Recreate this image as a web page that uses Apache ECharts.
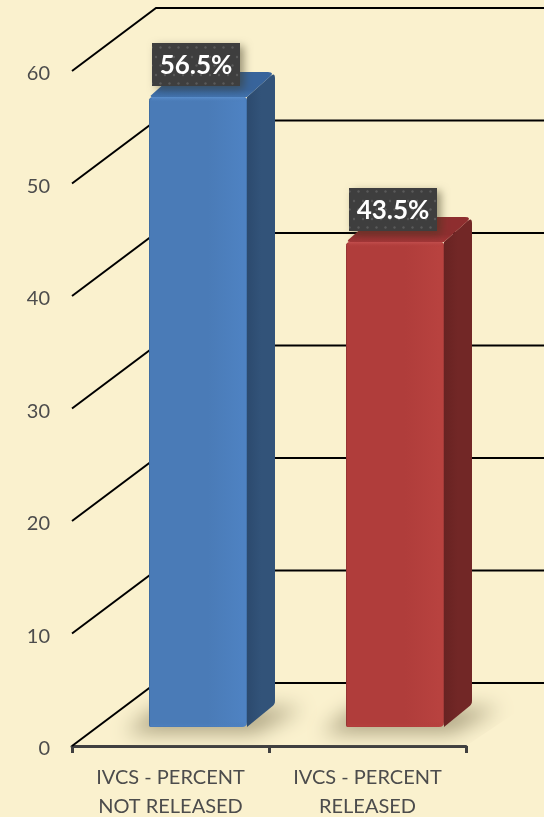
<!DOCTYPE html>
<html><head><meta charset="utf-8">
<style>html,body{margin:0;padding:0;background:#FAF1CE}#c{width:544px;height:817px}</style>
<script src="https://cdn.jsdelivr.net/npm/echarts@6/dist/echarts.min.js"></script>
</head><body><div id="c"></div>
<script>
const categories = ['IVCS - PERCENT\nNOT RELEASED', 'IVCS - PERCENT\nRELEASED'];
const values = [56.5, 43.5];
const yTicks = [0, 10, 20, 30, 40, 50, 60];
const palettes = [
  {edge:'#3A6596', main:'#4A7BB7', light:'#4E82C2', top:'#38649B', topHi:'#4273AE', side:'#325379', sideHi:'#2C4A6E', hi:'#5B90CF'},
  {edge:'#8A3231', main:'#B03D3B', light:'#B8423F', top:'#8E2E2F', topHi:'#A33637', side:'#722726', sideHi:'#682322', hi:'#C44F4E'}
];
const WALL_DX = 84, WALL_DY = 63, BAR_SHIFT = 27.5, BAR_W = 98, BAR_RISE = 19, BAR_DX = 28, BAR_DY = 23, PERSP = 0.991, OFF = 1500;

function rounded(pts, r) {
  const out = [], n = pts.length;
  pts.forEach((p, i) => {
    const a = pts[(i + n - 1) % n], b = pts[(i + 1) % n], rr = p[2] === undefined ? r : p[2];
    if (!rr) { out.push([p[0], p[1]]); return; }
    const la = Math.hypot(a[0]-p[0], a[1]-p[1]), lb = Math.hypot(b[0]-p[0], b[1]-p[1]);
    const s = [p[0]+(a[0]-p[0])*rr/la, p[1]+(a[1]-p[1])*rr/la];
    const e = [p[0]+(b[0]-p[0])*rr/lb, p[1]+(b[1]-p[1])*rr/lb];
    for (let t = 0; t <= 1.001; t += 0.25) {
      const u = 1 - t;
      out.push([u*u*s[0]+2*u*t*p[0]+t*t*e[0], u*u*s[1]+2*u*t*p[1]+t*t*e[1]]);
    }
  });
  return out;
}
function grad(x0, y0, x1, y1, stops) {
  return {type:'linear', x:x0, y:y0, x2:x1, y2:y1, global:true,
    colorStops:stops.map(s => ({offset:s[0], color:s[1]}))};
}
const dots = document.createElement('canvas');
dots.width = 18; dots.height = 18;
(function () {
  const g = dots.getContext('2d');
  g.fillStyle = '#3E3E3E'; g.fillRect(0, 0, 18, 18);
  g.fillStyle = '#5A5A5A';
  [[3,3],[12,3],[7.5,11.5],[16.5,11.5]].forEach(d => { g.beginPath(); g.arc(d[0], d[1], 1.2, 0, 7); g.fill(); });
})();

function renderGrid(params, api) {
  const cs = params.coordSys, y = api.coord([0, api.value(1)])[1], x = cs.x;
  return {type:'polyline', silent:true, shape:{points:[[x, y],[x+WALL_DX, y-WALL_DY],[560, y-WALL_DY]]},
    style:{fill:null, stroke:'#000', lineWidth:2}};
}
function floorShadow(params, api) {
  const c = api.coord([api.value(0), 0]), cs = params.coordSys;
  const x0 = c[0]+BAR_SHIFT-BAR_W/2, x1 = x0+BAR_W, b = c[1]-BAR_RISE;
  const y0 = api.coord([0,0])[1];
  const pts = [[x0-24, b+6],[x1+8, b+6],[x1+BAR_DX+28, b-BAR_DY+4],[x0+8, b-BAR_DY+4]];
  return {type:'polygon', silent:true,
    clipPath:{type:'polygon', shape:{points:[[cs.x, y0],[cs.x+WALL_DX, y0-WALL_DY],[560, y0-WALL_DY],[cs.x+cs.width, y0]]}},
    shape:{points:pts.map(p => [p[0]-OFF, p[1]])},
    style:{fill:'#000', shadowBlur:20, shadowOffsetX:OFF, shadowColor:'rgb(172,163,130)'}};
}
function renderBar(params, api) {
  const i = api.value(0), v = api.value(1), pal = palettes[i];
  const base = api.coord([i, 0]), tip = api.coord([i, v]);
  const x0 = base[0]+BAR_SHIFT-BAR_W/2, x1 = x0+BAR_W, b = base[1]-BAR_RISE;
  const t = b - (base[1]-tip[1])*PERSP, dtop = BAR_DY+2;
  const side = rounded([[x1,t,0],[x1+BAR_DX,t-dtop,6],[x1+BAR_DX,b-BAR_DY,3],[x1,b,0]], 4);
  const top = rounded([[x0,t,4],[x0+BAR_DX,t-dtop,7],[x1+BAR_DX,t-dtop,7],[x1,t,0]], 4);
  const front = rounded([[x0,t,4],[x1,t,3],[x1,b,5],[x0,b,2]], 3);
  const cx = (x0+x1)/2 - 2, boxB = t-11, boxT = boxB-43, boxL = cx-44;
  return {type:'group', silent:true, children:[
    {type:'polygon', shape:{points:side}, style:{fill:grad(x1,0,x1+BAR_DX,0,[[0,pal.sideHi],[0.5,pal.side],[1,pal.side]])}},
    {type:'polygon', shape:{points:top}, style:{fill:grad(0,t-dtop,0,t,[[0,pal.top],[0.7,pal.top],[1,pal.topHi]])}},
    {type:'polygon', shape:{points:front}, style:{fill:grad(x0,0,x1,0,[[0,pal.edge],[0.015,pal.main],[0.6,pal.main],[0.95,pal.light],[0.99,pal.light],[1,pal.edge]])}},
    {type:'polygon', shape:{points:[[x0+3,t],[x1-3,t],[x1-2,t+5],[x0+2,t+5]]},
      style:{fill:grad(0,t,0,t+5,[[0,pal.hi],[1,pal.main+'00']])}},
    {type:'polygon', shape:{points:[[x0+1,b-5],[x1-2,b-5],[x1-4,b-1],[x0+2,b-1]]},
      style:{fill:grad(0,b-5,0,b,[[0,pal.main+'00'],[1,pal.light]])}},
    {type:'rect', shape:{x:boxL, y:boxT, width:88, height:43},
      style:{fill:{image:dots, repeat:'repeat'}, shadowBlur:9, shadowOffsetX:4, shadowOffsetY:3, shadowColor:'rgba(60,55,30,0.5)'}},
    {type:'text', style:{text:v.toFixed(1)+'%', x:cx, y:boxT+23, align:'center', verticalAlign:'middle',
      fill:'#fff', font:'bold 26px Lato'}}
  ]};
}
const chart = echarts.init(document.getElementById('c'), null, {renderer:'canvas'});
chart.setOption({
  animation:false,
  backgroundColor:'#FAF1CE',
  grid:{left:72, right:78, top:71, bottom:71, outerBoundsMode:'none'},
  xAxis:{type:'category', data:categories,
    axisLine:{lineStyle:{color:'#404040', width:3}},
    axisTick:{show:true, length:7, lineStyle:{color:'#404040', width:3}},
    axisLabel:{interval:0, margin:17, color:'#4C4C4C', fontFamily:'Lato', fontSize:20, lineHeight:29}},
  yAxis:{type:'value', min:0, max:60, interval:10,
    axisLine:{show:false}, axisTick:{show:false}, splitLine:{show:false},
    axisLabel:{margin:22, formatter:v => '{t|' + v + '}',
      rich:{t:{color:'#4C4C4C', fontFamily:'Lato', fontSize:20, lineHeight:20, padding:[6,0,0,0]}}}},
  series:[
    {type:'custom', clip:false, z:1, renderItem:floorShadow, data:values.map((v, i) => [i, v])},
    {type:'custom', clip:false, z:2, renderItem:renderGrid, data:yTicks.map(v => [0, v])},
    {type:'custom', clip:false, z:3, renderItem:renderBar, data:values.map((v, i) => [i, v])}
  ]
});
</script></body></html>
